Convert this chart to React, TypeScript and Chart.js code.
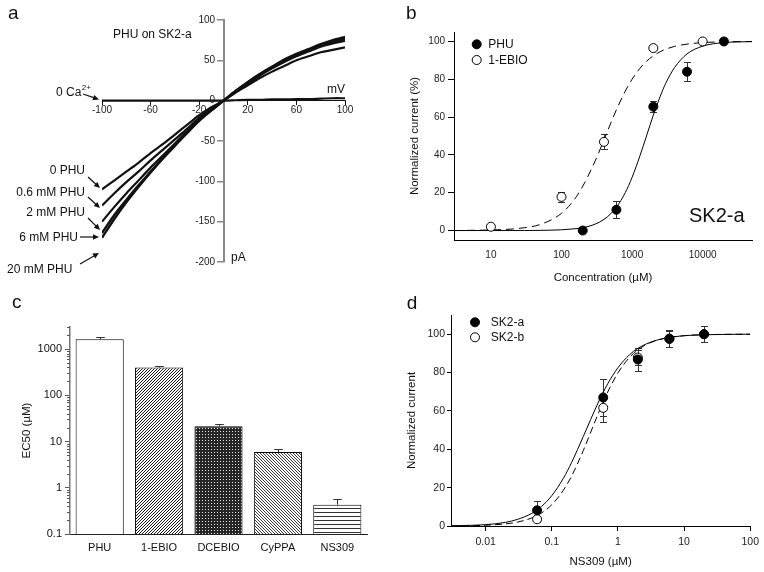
import React, { useEffect, useRef } from 'react';
import { Chart, registerables } from 'chart.js';

Chart.register(...registerables);

const FONT = '"Liberation Sans", Arial, Helvetica, sans-serif';
Chart.defaults.font.family = FONT;
Chart.defaults.color = '#111';

// ---------- Panel a : I-V traces ----------
const IV_MV = [-100, -90, -80, -70, -60, -50, -40, -30, -20, -10, 0, 10, 20, 30, 40, 50, 60, 70, 80, 90, 100];
const IV_0_PHU = [-110, -99, -88, -77, -65, -54, -42, -30, -18, -8, 0, 10, 19, 28, 36, 43, 50, 55, 60, 63, 66];
const IV_06_PHU = [-130, -115, -101, -88, -74, -61, -48, -35, -21, -10, 0, 11, 21, 31, 40, 48, 55, 61, 67, 71, 74];
const IV_2_PHU = [-150, -132, -115, -99, -83, -68, -53, -38, -23, -11, 0, 11, 22, 32, 41, 49, 56, 62, 68, 72, 76];
const IV_6_PHU = [-164, -142, -123, -105, -88, -71, -55, -40, -24, -12, 0, 12, 23, 33, 42, 50, 57, 63, 69, 74, 78];
const IV_20_PHU = [-170, -147, -126, -107, -89, -72, -56, -40, -25, -12, 0, 12, 23, 33, 42, 51, 58, 64, 70, 75, 79];
const IV_0_CA = [0, 0, 0, 0, 0, 0, 0, 0, 0, 0, 0, 0.5, 1, 1, 1.5, 1.5, 2, 2, 2.5, 3, 3];

// ---------- Panel b : PHU vs 1-EBIO on SK2-a ----------
const B_PHU_CONC = [200, 600, 2000, 6000, 20000];
const B_PHU_RESP = [0, 11, 65.5, 84, 100];
const B_PHU_ERR = [0, 4.4, 3, 5, 0];
const B_EBIO_CONC = [10, 100, 400, 2000, 10000];
const B_EBIO_RESP = [2, 17.8, 46.9, 96.5, 100];
const B_EBIO_ERR = [0, 2.5, 4, 0, 0];
const B_FIT_CONC = [3, 5, 10, 20, 30, 50, 100, 150, 200, 300, 400, 500, 600, 800, 1000, 1300, 1600, 2000, 2500, 3000, 4000, 6000, 10000, 20000, 50000];
const B_PHU_FIT = [0, 0, 0, 0, 0, 0.1, 0.4, 0.9, 1.5, 3.4, 5.9, 8.9, 12.3, 20, 28.1, 39.8, 50, 61, 70.9, 77.9, 86.2, 93.4, 97.5, 99.4, 99.9];
const B_EBIO_FIT = [0, 0.1, 0.3, 0.8, 1.5, 3.2, 9.1, 16.1, 23.4, 36.8, 48, 56.9, 63.9, 73.7, 80, 85.9, 89.5, 92.4, 94.6, 95.9, 97.4, 98.6, 99.4, 99.8, 100];
const B_X_TICKS = [10, 100, 1000, 10000];
const B_Y_TICKS = [0, 20, 40, 60, 80, 100];

// ---------- Panel c : EC50 bars ----------
const C_COMPOUNDS = ['PHU', '1-EBIO', 'DCEBIO', 'CyPPA', 'NS309'];
const C_EC50 = [1620, 397, 21.4, 5.9, 0.43];
const C_EC50_ERR = [220, 41, 2.6, 1.1, 0.13];
const C_Y_TICKS = [0.1, 1, 10, 100, 1000];

// ---------- Panel d : NS309 on SK2-a / SK2-b ----------
const D_CONC = [0.06, 0.6, 2, 6, 20];
const D_SK2A = [8.2, 67, 86.8, 97.7, 100];
const D_SK2A_ERR = [5, 9.7, 5.9, 4.3, 4.3];
const D_SK2B = [3.5, 61.6, 87.8, 97.5, 100];
const D_SK2B_ERR = [1.5, 7.3, 3.9, 4.3, 4.3];
const D_FIT_CONC = [0.003, 0.005, 0.01, 0.02, 0.03, 0.05, 0.07, 0.1, 0.15, 0.2, 0.3, 0.5, 0.7, 1, 1.5, 2, 3, 5, 10, 20, 100];
const D_SK2A_FIT = [0.1, 0.3, 0.7, 1.9, 3.4, 6.6, 10.2, 15.8, 24.9, 33.2, 46.7, 64.1, 74.1, 82.5, 89.3, 92.6, 95.6, 97.8, 99.2, 99.7, 100];
const D_SK2B_FIT = [0.1, 0.1, 0.4, 1.1, 2, 4.2, 6.8, 11.1, 18.7, 26.1, 39.4, 58.3, 69.8, 79.8, 87.9, 91.8, 95.4, 97.8, 99.2, 99.7, 100];
const D_X_TICKS = [0.01, 0.1, 1, 10, 100];
const D_Y_TICKS = [0, 20, 40, 60, 80, 100];

function pts(xs: number[], ys: number[]) {
  return xs.map((x, i) => ({ x, y: ys[i] }));
}

function drawArrow(ctx: CanvasRenderingContext2D, x1: number, y1: number, x2: number, y2: number) {
  const a = Math.atan2(y2 - y1, x2 - x1);
  const hl = 6, hw = 2.8;
  ctx.beginPath();
  ctx.moveTo(x1, y1);
  ctx.lineTo(x2 - hl * 0.8 * Math.cos(a), y2 - hl * 0.8 * Math.sin(a));
  ctx.stroke();
  ctx.beginPath();
  ctx.moveTo(x2, y2);
  ctx.lineTo(x2 - hl * Math.cos(a) + hw * Math.sin(a), y2 - hl * Math.sin(a) - hw * Math.cos(a));
  ctx.lineTo(x2 - hl * Math.cos(a) - hw * Math.sin(a), y2 - hl * Math.sin(a) + hw * Math.cos(a));
  ctx.closePath();
  ctx.fill();
}

function drawErr(chart: any, after: boolean) {
  const ctx = chart.ctx as CanvasRenderingContext2D;
  chart.data.datasets.forEach((ds: any, i: number) => {
    if (!ds.errUp || !!ds.errAfter !== after) return;
    const meta = chart.getDatasetMeta(i);
    const yScale = chart.scales[meta.yAxisID];
    ctx.save();
    ctx.strokeStyle = ds.errColor || '#333';
    ctx.lineWidth = 1;
    meta.data.forEach((el: any, j: number) => {
      const e = ds.errUp[j];
      if (!e) return;
      const raw = ds.data[j];
      const v = typeof raw === 'number' ? raw : raw.y;
      const x = Math.round(el.x) + 0.5;
      const yt = Math.round(yScale.getPixelForValue(v + e)) + 0.5;
      const yb = ds.errBoth ? Math.round(yScale.getPixelForValue(v - e)) + 0.5 : yScale.getPixelForValue(v);
      const cw = ds.capW || 3.5;
      ctx.beginPath();
      ctx.moveTo(x, yt);
      ctx.lineTo(x, yb);
      ctx.moveTo(x - cw, yt);
      ctx.lineTo(x + cw, yt);
      if (ds.errBoth) {
        ctx.moveTo(x - cw, yb);
        ctx.lineTo(x + cw, yb);
      }
      ctx.stroke();
    });
    ctx.restore();
  });
}

const errorBars = {
  id: 'errorBars',
  beforeDatasetsDraw(chart: any) { drawErr(chart, false); },
  afterDatasetsDraw(chart: any) { drawErr(chart, true); },
};

function drawLegend(ctx: CanvasRenderingContext2D, cx: number, tx: number, items: { y: number; filled: boolean; text: string }[]) {
  ctx.save();
  ctx.font = `12px ${FONT}`;
  ctx.textAlign = 'left';
  ctx.textBaseline = 'middle';
  items.forEach((it) => {
    ctx.beginPath();
    ctx.arc(cx, it.y, 4.5, 0, Math.PI * 2);
    ctx.fillStyle = it.filled ? '#000' : '#fff';
    ctx.fill();
    ctx.lineWidth = 1;
    ctx.strokeStyle = '#000';
    ctx.stroke();
    ctx.fillStyle = '#111';
    ctx.fillText(it.text, tx, it.y + 0.5);
  });
  ctx.restore();
}

function panelLetter(ctx: CanvasRenderingContext2D, t: string, x: number, y: number) {
  ctx.save();
  ctx.font = `19px ${FONT}`;
  ctx.fillStyle = '#111';
  ctx.textAlign = 'left';
  ctx.textBaseline = 'alphabetic';
  ctx.fillText(t, x, y);
  ctx.restore();
}

function makePattern(size: number, bg: string, fg: string, pixels: number[][]) {
  const c = document.createElement('canvas');
  c.width = size;
  c.height = size;
  const g = c.getContext('2d')!;
  g.fillStyle = bg;
  g.fillRect(0, 0, size, size);
  g.fillStyle = fg;
  pixels.forEach(([x, y]) => g.fillRect(x, y, 1, 1));
  return g.createPattern(c, 'repeat')!;
}

const tickFont = (s: number) => ({ family: FONT, size: s });

function makeA(): any {
  const line = (data: number[], w: number) => ({
    data: pts(IV_MV, data),
    borderColor: '#111',
    borderWidth: w,
    pointRadius: 0,
    tension: 0.3,
    fill: false,
  });
  return {
    type: 'line',
    data: {
      datasets: [
        line(IV_0_CA, 2.2),
        line(IV_0_PHU, 2.2),
        line(IV_06_PHU, 2.2),
        line(IV_2_PHU, 2.2),
        line(IV_6_PHU, 2.4),
        line(IV_20_PHU, 2.4),
      ],
    },
    options: {
      animation: false,
      responsive: false,
      maintainAspectRatio: false,
      layout: { padding: { left: 102, right: 35, top: 20, bottom: 18 } },
      plugins: { legend: { display: false }, tooltip: { enabled: false } },
      scales: {
        x: {
          type: 'linear',
          min: -100,
          max: 100,
          position: { y: 0 },
          ticks: { stepSize: 40, font: tickFont(10), color: '#222', padding: 0, maxRotation: 0, autoSkip: false },
          grid: { display: true, drawOnChartArea: false, drawTicks: true, tickLength: 4, color: '#111' },
          border: { color: '#111', width: 1 },
        },
        y: {
          type: 'linear',
          min: -200,
          max: 100,
          position: { x: 0 },
          ticks: {
            stepSize: 50,
            font: tickFont(10),
            color: '#222',
            autoSkip: false,
            callback: (v: any) => String(v) + '   ',
          },
          grid: { display: true, drawOnChartArea: false, drawTicks: true, tickLength: 6, color: '#888', lineWidth: 1.5 },
          border: { color: '#888', width: 2 },
        },
      },
    },
    plugins: [
      {
        id: 'annotA',
        afterDraw(chart: any) {
          const ctx = chart.ctx as CanvasRenderingContext2D;
          panelLetter(ctx, 'a', 8, 19);
          ctx.save();
          ctx.fillStyle = '#111';
          ctx.strokeStyle = '#111';
          ctx.lineWidth = 1.2;
          ctx.textBaseline = 'alphabetic';
          ctx.font = `12px ${FONT}`;
          ctx.textAlign = 'left';
          ctx.fillText('PHU on SK2-a', 113, 38);
          ctx.textAlign = 'right';
          ctx.fillText('mV', 345, 93);
          ctx.textAlign = 'left';
          ctx.fillText('pA', 231, 261);
          ctx.fillText('0 Ca', 56, 96);
          const w = ctx.measureText('0 Ca').width;
          ctx.font = `8px ${FONT}`;
          ctx.fillText('2+', 56 + w + 0.5, 90);
          ctx.font = `12px ${FONT}`;
          ctx.textAlign = 'right';
          ctx.fillText('0 PHU', 85, 174);
          ctx.fillText('0.6 mM PHU', 85, 196);
          ctx.fillText('2 mM PHU', 85, 215.5);
          ctx.fillText('6 mM PHU', 78, 241);
          ctx.textAlign = 'left';
          ctx.fillText('20 mM PHU', 7, 273);
          drawArrow(ctx, 83, 94, 99, 99.5);
          drawArrow(ctx, 88, 177, 100, 188);
          drawArrow(ctx, 88, 197, 100, 208);
          drawArrow(ctx, 88, 218, 100, 230);
          drawArrow(ctx, 80, 237, 99, 237);
          drawArrow(ctx, 80, 264, 99, 253);
          ctx.restore();
        },
      },
    ],
  };
}

function makeB(): any {
  return {
    type: 'line',
    data: {
      datasets: [
        {
          label: 'PHU',
          data: pts(B_PHU_CONC, B_PHU_RESP),
          showLine: false,
          pointRadius: 4.5,
          pointBackgroundColor: '#000',
          pointBorderColor: '#000',
          pointBorderWidth: 1,
          errUp: B_PHU_ERR,
          errBoth: true,
          capW: 3.5,
          order: 0,
        },
        {
          label: '1-EBIO',
          data: pts(B_EBIO_CONC, B_EBIO_RESP),
          showLine: false,
          pointRadius: 4.5,
          pointBackgroundColor: '#fff',
          pointBorderColor: '#000',
          pointBorderWidth: 1,
          errUp: B_EBIO_ERR,
          errBoth: true,
          capW: 3.5,
          order: 0,
        },
        {
          label: 'PHU fit',
          data: pts(B_FIT_CONC, B_PHU_FIT),
          borderColor: '#000',
          borderWidth: 1,
          pointRadius: 0,
          cubicInterpolationMode: 'monotone',
          order: 1,
        },
        {
          label: '1-EBIO fit',
          data: pts(B_FIT_CONC, B_EBIO_FIT),
          borderColor: '#000',
          borderWidth: 1,
          borderDash: [8, 5],
          pointRadius: 0,
          cubicInterpolationMode: 'monotone',
          order: 1,
        },
      ],
    },
    options: {
      animation: false,
      responsive: false,
      maintainAspectRatio: false,
      layout: { padding: { left: 0, right: 12, top: 32, bottom: 0 } },
      plugins: { legend: { display: false }, tooltip: { enabled: false } },
      scales: {
        x: {
          type: 'logarithmic',
          min: 3,
          max: 50000,
          position: 'bottom',
          afterBuildTicks: (s: any) => { s.ticks = B_X_TICKS.map((v) => ({ value: v })); },
          afterFit: (s: any) => { s.height = 50; },
          ticks: { callback: (v: any) => String(v), font: tickFont(10), color: '#222', padding: 9, maxRotation: 0, autoSkip: false },
          grid: { display: false, drawTicks: false },
          border: { display: true, color: '#000', width: 1 },
          title: { display: true, text: 'Concentration (µM)', font: tickFont(11.5), color: '#111', padding: { top: 0, bottom: 5 } },
        },
        y: {
          type: 'linear',
          min: -5,
          max: 105,
          position: 'left',
          afterBuildTicks: (s: any) => { s.ticks = B_Y_TICKS.map((v) => ({ value: v })); },
          afterFit: (s: any) => { s.width = 74; },
          ticks: { font: tickFont(10), color: '#222', padding: 3 },
          grid: { display: true, drawOnChartArea: false, drawTicks: true, tickLength: 6, color: '#000' },
          border: { display: true, color: '#000', width: 1 },
          title: { display: true, text: 'Normalized current (%)', font: tickFont(11.5), color: '#111', padding: { top: 28, bottom: 0 } },
        },
      },
    },
    plugins: [
      errorBars,
      {
        id: 'annotB',
        afterDraw(chart: any) {
          const ctx = chart.ctx as CanvasRenderingContext2D;
          panelLetter(ctx, 'b', 26, 19);
          drawLegend(ctx, 96.7, 108.3, [
            { y: 44.3, filled: true, text: 'PHU' },
            { y: 60, filled: false, text: '1-EBIO' },
          ]);
          ctx.save();
          ctx.font = `20px ${FONT}`;
          ctx.fillStyle = '#111';
          ctx.textAlign = 'left';
          ctx.fillText('SK2-a', 309, 221.7);
          ctx.restore();
        },
      },
    ],
  };
}

function makeC(): any {
  const fills = [
    '#ffffff',
    makePattern(3, '#ffffff', '#1a1a1a', [[0, 2], [1, 1], [2, 0]]),
    makePattern(3, '#262626', '#e6e6e6', [[1, 1]]),
    makePattern(3, '#ffffff', '#3a3a3a', [[0, 0], [1, 1], [2, 2]]),
    makePattern(4, '#ffffff', '#333333', [[0, 0], [1, 0], [2, 0], [3, 0]]),
  ];
  return {
    type: 'bar',
    data: {
      labels: C_COMPOUNDS,
      datasets: [
        {
          label: 'EC50',
          data: C_EC50,
          backgroundColor: fills,
          borderColor: '#000',
          borderWidth: 1,
          barPercentage: 0.81,
          categoryPercentage: 1,
          errUp: C_EC50_ERR,
          errAfter: true,
          capW: 4.3,
        },
      ],
    },
    options: {
      animation: false,
      responsive: false,
      maintainAspectRatio: false,
      layout: { padding: { left: 0, right: 13, top: 47, bottom: 0 } },
      plugins: { legend: { display: false }, tooltip: { enabled: false } },
      scales: {
        x: {
          type: 'category',
          position: 'bottom',
          afterFit: (s: any) => { s.height = 38; },
          ticks: { font: tickFont(11), color: '#111', padding: 7, maxRotation: 0, autoSkip: false },
          grid: { display: false, drawTicks: false },
          border: { display: true, color: '#222', width: 1 },
        },
        y: {
          type: 'logarithmic',
          min: 0.1,
          max: 3000,
          position: 'left',
          afterBuildTicks: (s: any) => { s.ticks = C_Y_TICKS.map((v) => ({ value: v })); },
          afterFit: (s: any) => { s.width = 70; },
          ticks: { callback: (v: any) => String(v), font: tickFont(11), color: '#111', padding: 3, autoSkip: false },
          grid: { display: true, drawOnChartArea: false, drawTicks: true, tickLength: 5, color: '#555' },
          border: { display: true, color: '#777', width: 1.5 },
          title: { display: true, text: 'EC50 (µM)', font: tickFont(11.5), color: '#111', padding: { top: 20, bottom: 0 } },
        },
      },
    },
    plugins: [
      errorBars,
      {
        id: 'annotC',
        afterDraw(chart: any) {
          const ctx = chart.ctx as CanvasRenderingContext2D;
          panelLetter(ctx, 'c', 12, 28.3);
          const ys = chart.scales.y;
          const x0 = ys.right;
          ctx.save();
          ctx.strokeStyle = '#555';
          ctx.lineWidth = 1;
          C_Y_TICKS.forEach((d) => {
            for (let k = 2; k <= 9; k++) {
              const v = d * k;
              if (v > ys.max) continue;
              const y = Math.round(ys.getPixelForValue(v)) + 0.5;
              ctx.beginPath();
              ctx.moveTo(x0 - 3, y);
              ctx.lineTo(x0, y);
              ctx.stroke();
            }
          });
          ctx.restore();
        },
      },
    ],
  };
}

function makeD(): any {
  return {
    type: 'line',
    data: {
      datasets: [
        {
          label: 'SK2-a',
          data: pts(D_CONC, D_SK2A),
          showLine: false,
          pointRadius: 4.5,
          pointBackgroundColor: '#000',
          pointBorderColor: '#000',
          pointBorderWidth: 1,
          errUp: D_SK2A_ERR,
          errBoth: true,
          capW: 3.5,
          order: 0,
        },
        {
          label: 'SK2-b',
          data: pts(D_CONC, D_SK2B),
          showLine: false,
          pointRadius: 4.5,
          pointBackgroundColor: '#fff',
          pointBorderColor: '#000',
          pointBorderWidth: 1,
          errUp: D_SK2B_ERR,
          errBoth: true,
          capW: 3.5,
          order: 0,
        },
        {
          label: 'SK2-a fit',
          data: pts(D_FIT_CONC, D_SK2A_FIT),
          borderColor: '#000',
          borderWidth: 1,
          pointRadius: 0,
          cubicInterpolationMode: 'monotone',
          order: 1,
        },
        {
          label: 'SK2-b fit',
          data: pts(D_FIT_CONC, D_SK2B_FIT),
          borderColor: '#000',
          borderWidth: 1,
          borderDash: [7, 4],
          pointRadius: 0,
          cubicInterpolationMode: 'monotone',
          order: 1,
        },
      ],
    },
    options: {
      animation: false,
      responsive: false,
      maintainAspectRatio: false,
      layout: { padding: { left: 0, right: 13, top: 35, bottom: 0 } },
      plugins: { legend: { display: false }, tooltip: { enabled: false } },
      scales: {
        x: {
          type: 'logarithmic',
          min: 0.003,
          max: 100,
          position: 'bottom',
          afterBuildTicks: (s: any) => { s.ticks = D_X_TICKS.map((v) => ({ value: v })); },
          afterFit: (s: any) => { s.height = 46; },
          ticks: { callback: (v: any) => String(v), font: tickFont(10.5), color: '#222', padding: 5, maxRotation: 0, autoSkip: false },
          grid: { display: true, drawOnChartArea: false, drawTicks: true, tickLength: 5, color: '#000' },
          border: { display: true, color: '#000', width: 1 },
          title: { display: true, text: 'NS309 (µM)', font: tickFont(11.5), color: '#111', padding: { top: 0, bottom: 3.4 } },
        },
        y: {
          type: 'linear',
          min: 0,
          max: 110,
          position: 'left',
          afterBuildTicks: (s: any) => { s.ticks = D_Y_TICKS.map((v) => ({ value: v })); },
          afterFit: (s: any) => { s.width = 71; },
          ticks: { font: tickFont(10.5), color: '#222', padding: 2 },
          grid: { display: true, drawOnChartArea: false, drawTicks: true, tickLength: 4, color: '#000' },
          border: { display: true, color: '#000', width: 1 },
          title: { display: true, text: 'Normalized current', font: tickFont(11.5), color: '#111', padding: { top: 25, bottom: 0 } },
        },
      },
    },
    plugins: [
      errorBars,
      {
        id: 'annotD',
        afterDraw(chart: any) {
          const ctx = chart.ctx as CanvasRenderingContext2D;
          panelLetter(ctx, 'd', 26.7, 29.3);
          drawLegend(ctx, 95, 110.7, [
            { y: 42.3, filled: true, text: 'SK2-a' },
            { y: 57.3, filled: false, text: 'SK2-b' },
          ]);
        },
      },
    ],
  };
}

function ChartPanel(props: { left: number; top: number; width: number; height: number; make: () => any }) {
  const ref = useRef<HTMLCanvasElement>(null);
  useEffect(() => {
    const chart = new Chart(ref.current as HTMLCanvasElement, props.make());
    return () => chart.destroy();
  }, []);
  return (
    <canvas
      ref={ref}
      width={props.width}
      height={props.height}
      style={{ position: 'absolute', left: props.left, top: props.top, width: props.width, height: props.height }}
    />
  );
}

export default function App() {
  return (
    <div style={{ position: 'fixed', left: 0, top: 0, width: 764, height: 572, background: '#fff', overflow: 'hidden' }}>
      <ChartPanel left={0} top={0} width={380} height={280} make={makeA} />
      <ChartPanel left={380} top={0} width={384} height={290} make={makeB} />
      <ChartPanel left={0} top={280} width={380} height={292} make={makeC} />
      <ChartPanel left={380} top={280} width={384} height={292} make={makeD} />
    </div>
  );
}
